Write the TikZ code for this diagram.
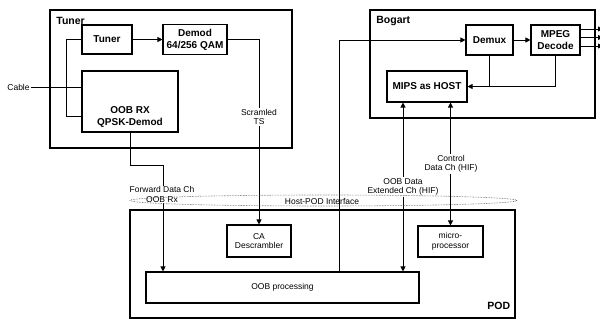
\documentclass[tikz,border=0pt]{standalone}
\usepackage{fontspec}
\setmainfont{Liberation Sans}
\usetikzlibrary{arrows.meta,positioning,shapes.geometric}

\tikzset{
  grp/.style={draw, line width=1.1pt},
  blk/.style={draw, line width=1.1pt, align=center, inner sep=1pt},
  lbl/.style={align=center, inner sep=1pt, fill=white},
  title/.style={anchor=base west, inner sep=0pt, font=\bfseries\fontsize{10.5}{12}\selectfont},
}

\begin{document}
\begin{tikzpicture}[x=1pt, y=-1pt, font=\fontsize{8.5}{9.5}\selectfont,
  >={Triangle[length=5pt,width=5pt]}, line width=0.8pt]
\useasboundingbox (0,0) rectangle (600,320);

% groups
\node[grp, minimum width=242pt, minimum height=138pt] (tunergrp) at (171,79) {};
\node[grp, minimum width=225pt, minimum height=108pt] (bogartgrp) at (482.5,64) {};
\node[grp, minimum width=385pt, minimum height=108pt] (podgrp) at (322.5,264) {};
\node[title] (tunertitle) at (56,24.5) {Tuner};
\node[title] (bogarttitle) at (376,23.5) {Bogart};
\node[title] (podtitle) at (487,310) {POD};

% tuner side
\node[blk, minimum width=50pt, minimum height=29pt, font=\bfseries] (tuner) at (107,39.5) {Tuner};
\node[blk, minimum width=64pt, minimum height=30pt, font=\bfseries] (demod) at (195,39.5) {Demod\\64/256 QAM};
\node[blk, minimum width=96pt, minimum height=61pt] (oobrx) at (130,101.5) {};
\node[align=center, inner sep=0pt, font=\bfseries] (oobrxtxt) at (130,116.5) {OOB RX\\QPSK-Demod};
\node[anchor=east, inner sep=1pt] (cable) at (31,87) {Cable};

% bogart side
\node[blk, minimum width=47pt, minimum height=30pt, font=\bfseries] (demux) at (489.5,40) {Demux};
\node[blk, minimum width=49pt, minimum height=30pt, font=\bfseries] (mpeg) at (555.5,40) {MPEG\\Decode};
\node[blk, minimum width=80pt, minimum height=31pt, font=\bfseries] (mips) at (427,86.5) {MIPS as HOST};

% pod side
\node[blk, minimum width=64pt, minimum height=32pt] (ca) at (259,241) {CA\\Descrambler};
\node[blk, minimum width=65pt, minimum height=31pt] (micro) at (450.5,241.5) {micro-\\processor};
\node[blk, minimum width=273pt, minimum height=31pt] (oobproc) at (282.5,287.5) {OOB processing};

\coordinate (fwd) at (163,165);
\coordinate (xdemux) at (339,0);
\coordinate (xoob) at (403,0);

% connectors
\draw (cable.east) -- (cable.east -| oobrx.west);
\draw (tuner.west) -- ++(-15,0) |- (oobrxtxt -| oobrx.west);
\draw[->] (tuner.east) -- (tuner.east -| demod.west);
\draw[->] (demod.east) -| (ca.north);
\draw[->] (oobrx.south) |- (fwd) -- (fwd |- oobproc.north);
\draw[->] (oobproc.north -| xdemux) |- (demux.west);
\draw[<->] (mips.south -| xoob) -- (oobproc.north -| xoob);
\draw[<->] (mips.south -| micro.north) -- (micro.north);
\draw[->] (demux) -- (mpeg);
\draw[->] (mpeg.south) |- (mips.east);
\draw (demux.south) -- (demux.south |- mips.east);
\foreach \y [count=\i] in {29,37.5,46} {
  \coordinate (out\i) at (603,\y);
  \draw[->] (mpeg.east |- out\i) -- (out\i);
}

% labels
\node[lbl] (scrlbl) at (259,117) {Scramled\\TS};
\node[lbl] (fwdlbl) at (162,194.5) {Forward Data Ch\\OOB Rx};
\node[lbl] (ooblbl) at (403,187) {OOB Data\\Extended Ch (HIF)};
\node[lbl] (ctrllbl) at (451,164) {Control\\Data Ch (HIF)};

% host-pod interface
\node[ellipse, draw=black!70, densely dotted, line width=0.6pt, minimum width=387pt,
  minimum height=11pt, inner sep=0pt] (hostpod) at (323.5,200.5) {};
\node[inner sep=0pt] (hostpodtxt) at (322,201) {Host-POD Interface};
\end{tikzpicture}
\end{document}
